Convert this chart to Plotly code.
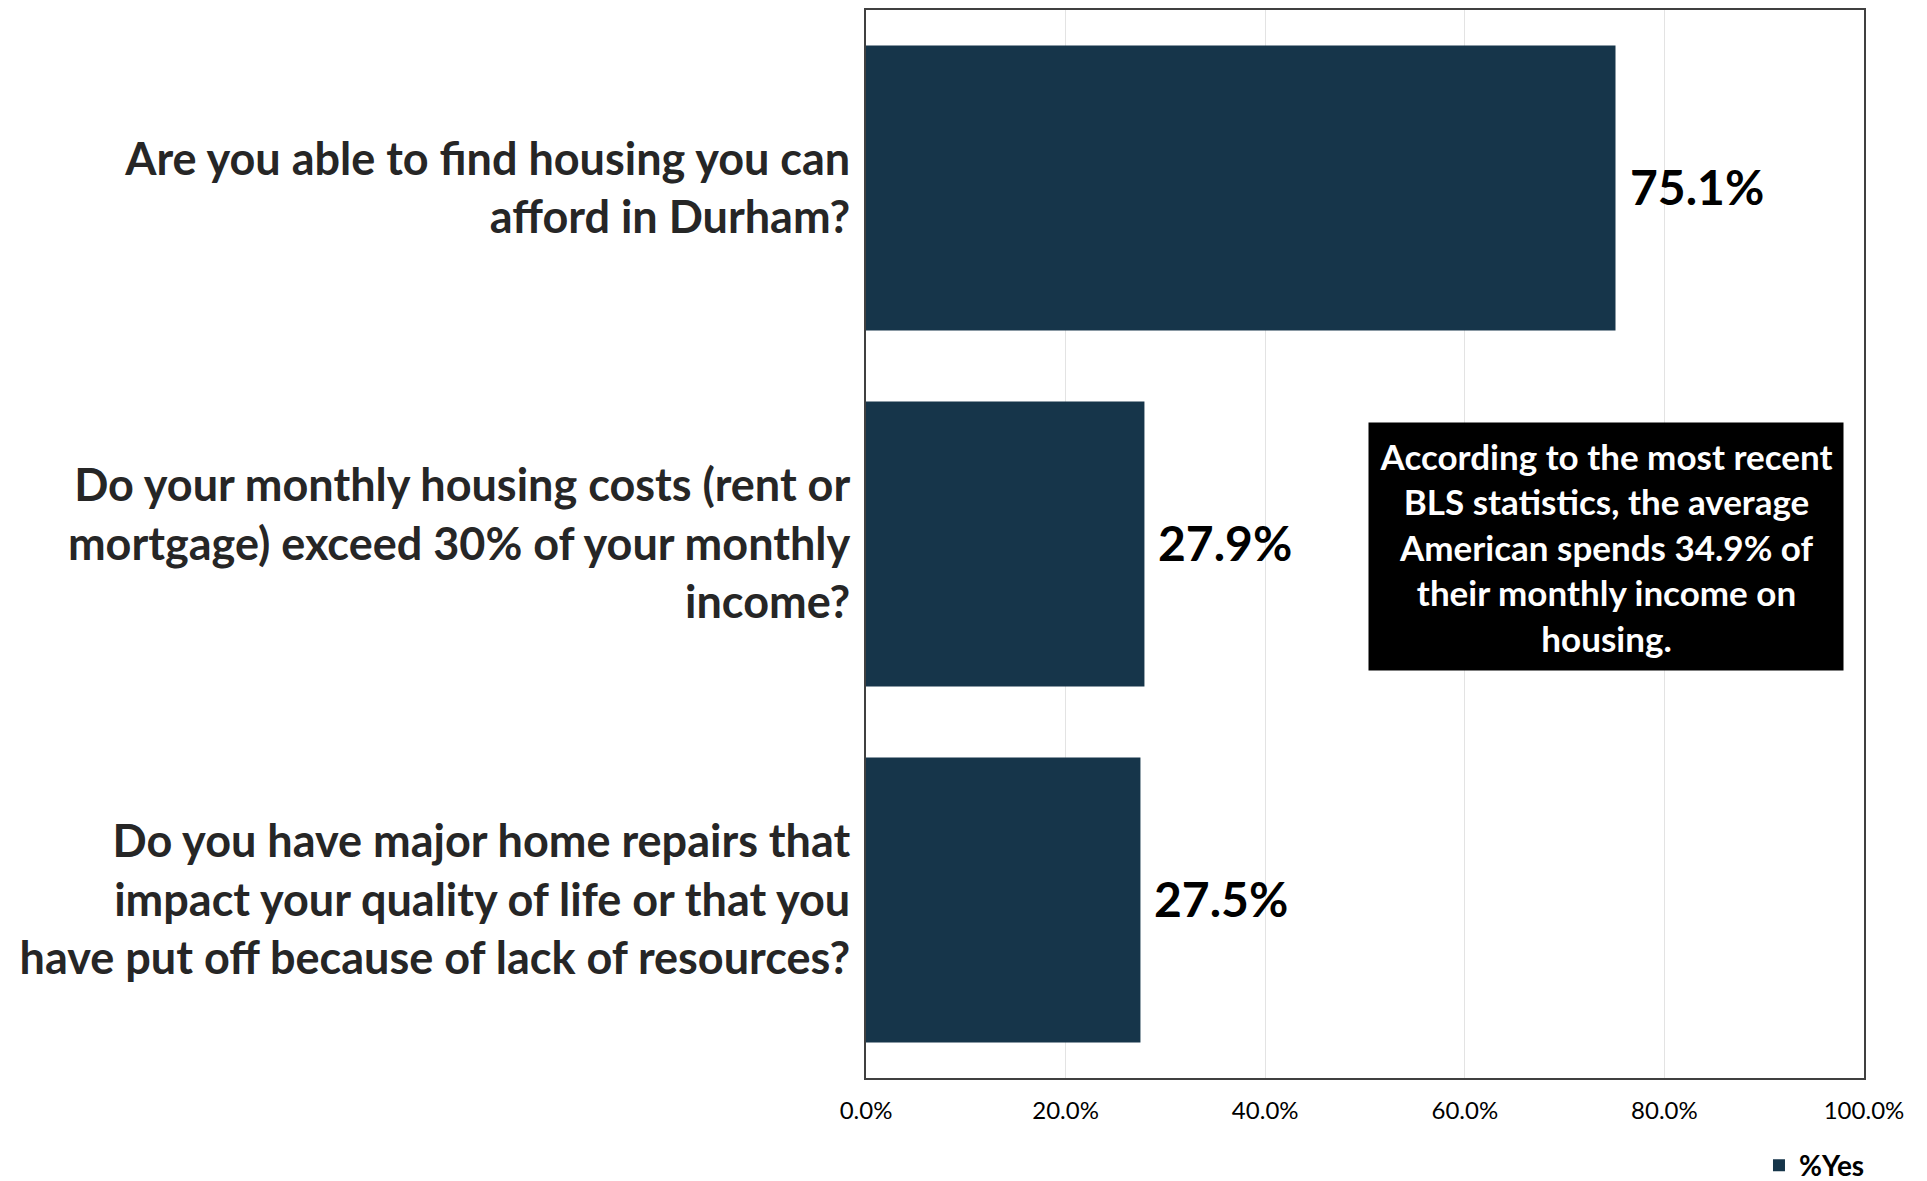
import plotly.graph_objects as go

categories = [
    "Are you able to find housing you can<br>afford in Durham?",
    "Do your monthly housing costs (rent or<br>mortgage) exceed 30% of your monthly<br>income?",
    "Do you have major home repairs that<br>impact your quality of life or that you<br>have put off because of lack of resources?",
]
pct_yes = [0.751, 0.279, 0.275]
series_name = "%Yes"
tick_vals = [0, 0.2, 0.4, 0.6, 0.8, 1.0]
note_text = ("According to the most recent<br>BLS statistics, the average<br>American spends 34.9% of"
             "<br>their monthly income on<br>housing.")

BAR = "#16354a"
FONT = "Lato"

fig = go.Figure()
fig.add_trace(go.Bar(
    x=pct_yes, y=categories, orientation="h", name=series_name,
    marker=dict(color=BAR, line=dict(width=0)),
    hoverinfo="skip",
))

for v, c in zip(pct_yes, categories):
    fig.add_annotation(
        x=v, y=c, xref="x", yref="y", text=f"{v:.1%}", showarrow=False,
        xanchor="left", yanchor="middle", xshift=12, yshift=2,
        font=dict(family=FONT, size=48, color="#000000", weight=700),
    )

fig.add_annotation(
    x=0.741, y=0.498, xref="paper", yref="paper", text=note_text, showarrow=False,
    xanchor="center", yanchor="middle", align="center",
    width=470, height=243, borderpad=2, bgcolor="#000000",
    font=dict(family=FONT, size=35, color="#ffffff", weight=700),
)

fig.update_layout(
    width=1919, height=1173,
    margin=dict(l=858, r=63, t=2, b=103, autoexpand=False),
    paper_bgcolor="#ffffff", plot_bgcolor="#ffffff",
    bargap=0.2,
    showlegend=True,
    legend=dict(
        orientation="h", x=1.006, xanchor="right", y=-0.082, yanchor="middle",
        font=dict(family=FONT, size=28, color="#000000", weight=700),
        bgcolor="rgba(0,0,0,0)",
    ),
    xaxis=dict(
        range=[0, 1], tickvals=tick_vals, tickformat=".1%",
        showgrid=True, gridcolor="#e3e3e3", gridwidth=1,
        zeroline=False,
        showline=True, linecolor="#404040", linewidth=1.5, mirror=True,
        ticks="outside", ticklen=10, tickcolor="rgba(0,0,0,0)",
        tickfont=dict(family=FONT, size=24, color="#000000"),
    ),
    yaxis=dict(
        autorange="reversed", showgrid=False, zeroline=False,
        showline=True, linecolor="#404040", linewidth=1.5, mirror=True,
        ticks="outside", ticklen=5, tickcolor="rgba(0,0,0,0)",
        tickfont=dict(family=FONT, size=45, color="#262626", weight=700),
    ),
)

fig.write_html("out.html")
